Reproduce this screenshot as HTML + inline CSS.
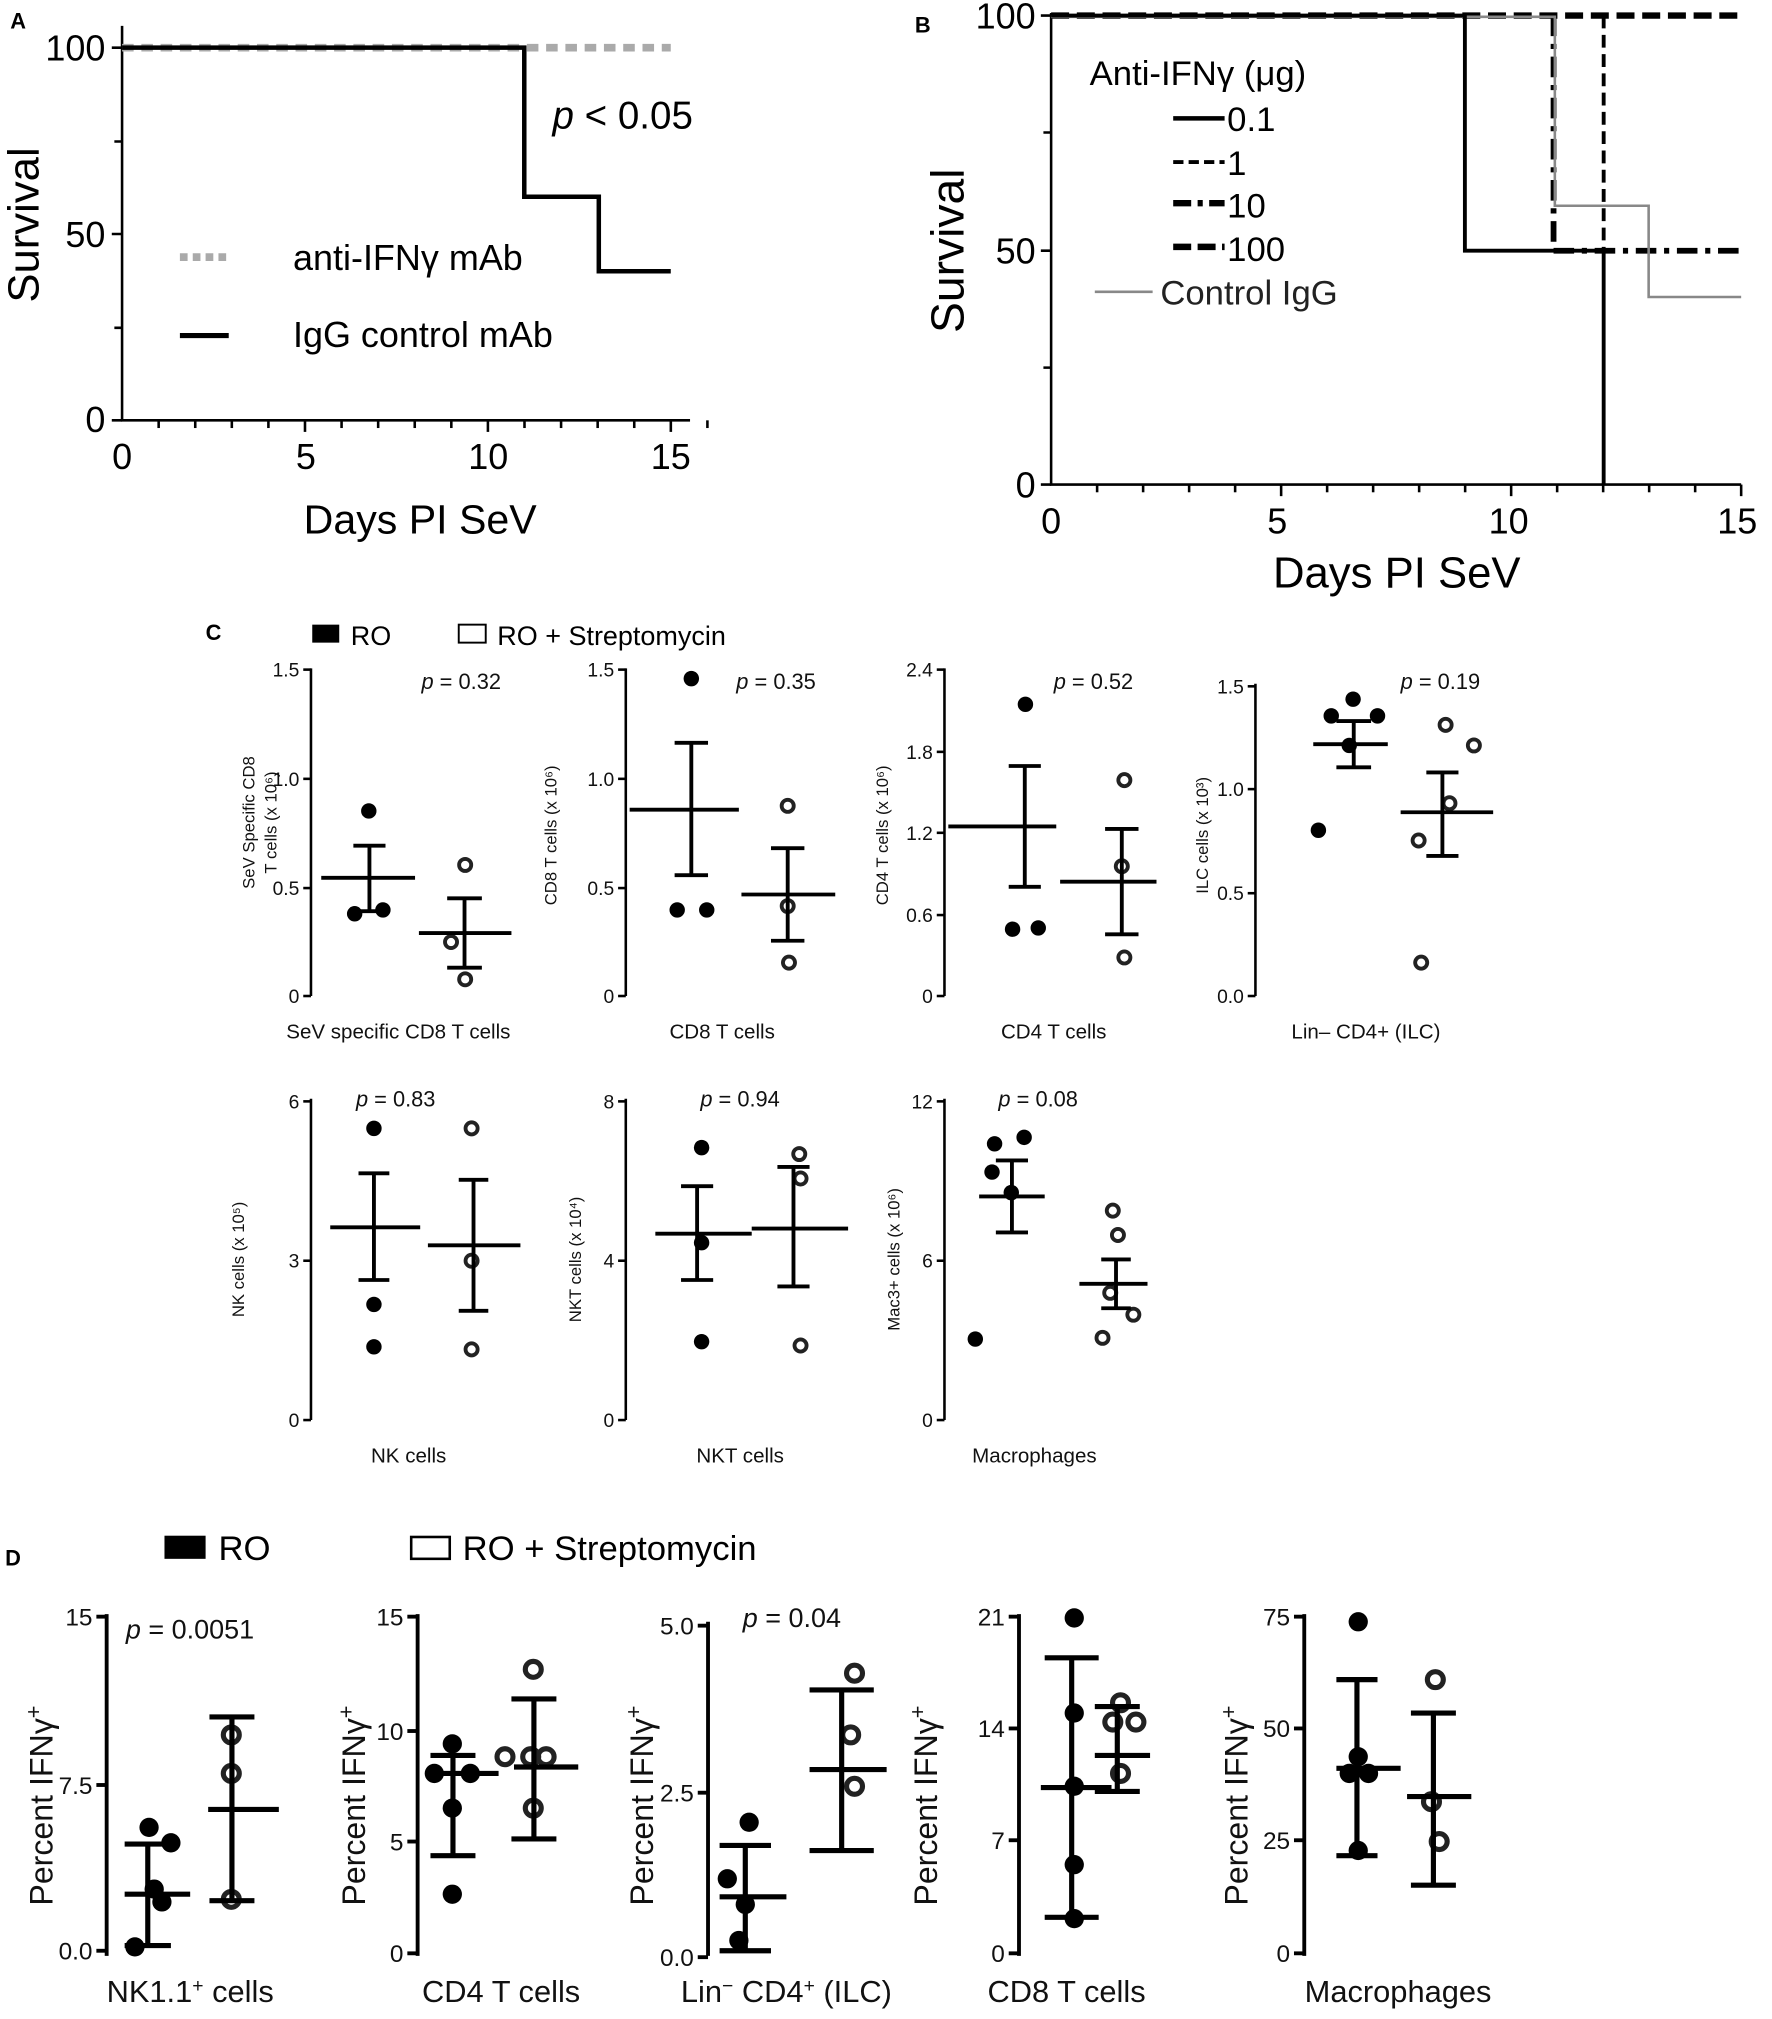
<!DOCTYPE html>
<html><head><meta charset="utf-8"><style>html,body{margin:0;padding:0;background:#fff}svg{display:block}text{font-family:"Liberation Sans",sans-serif}</style></head>
<body>
<svg id="s" xmlns="http://www.w3.org/2000/svg" width="1772" height="2019" viewBox="0 0 1379 1571">
<rect width="1379" height="1571" fill="#fff"/>
<!-- Panel A -->
<text x="8" y="22" font-size="17" font-weight="bold">A</text>
<g stroke="#000" stroke-width="2" fill="none">
<path d="M95,20V327H537"/>
<path d="M87,37H95M87,182H95M87,327H95M89,110H95M89,255H95"/>
</g>
<g id="ta"></g>
<g font-size="28" text-anchor="end"><text x="82" y="47">100</text><text x="82" y="192">50</text><text x="82" y="336">0</text></g>
<g font-size="28" text-anchor="middle"><text x="95" y="365">0</text><text x="238" y="365">5</text><text x="380" y="365">10</text><text x="522" y="365">15</text></g>
<text x="327" y="415" font-size="32" text-anchor="middle">Days PI SeV</text>
<text transform="translate(30,175) rotate(-90)" font-size="34" text-anchor="middle">Survival</text>
<path d="M95,37H522" stroke="#aaa" stroke-width="6" stroke-dasharray="9,6"/>
<path d="M95,37H408V153H466V211H522" stroke="#000" stroke-width="3.5" fill="none"/>
<path d="M140,200H178" stroke="#aaa" stroke-width="6" stroke-dasharray="6,4"/>
<path d="M140,261H178" stroke="#000" stroke-width="4"/>
<text x="228" y="210" font-size="28">anti-IFNγ mAb</text>
<text x="228" y="270" font-size="28">IgG control mAb</text>
<text x="430" y="100" font-size="30"><tspan font-style="italic">p</tspan> &lt; 0.05</text>
<!-- Panel B -->
<text x="712" y="25" font-size="17" font-weight="bold">B</text>
<g stroke="#000" stroke-width="2" fill="none">
<path d="M818,10V377H1355"/>
<path d="M810,12H818M810,195H818M810,377H818M812,103H818M812,286H818"/>
</g>
<g id="tb"></g>
<g font-size="28" text-anchor="end"><text x="806" y="22">100</text><text x="806" y="205">50</text><text x="806" y="387">0</text></g>
<g font-size="28" text-anchor="middle"><text x="818" y="415">0</text><text x="994" y="415">5</text><text x="1174" y="415">10</text><text x="1352" y="415">15</text></g>
<text x="1087" y="457" font-size="34" text-anchor="middle">Days PI SeV</text>
<text transform="translate(750,195) rotate(-90)" font-size="36" text-anchor="middle">Survival</text>
<path d="M818,12H1355" stroke="#000" stroke-width="5" stroke-dasharray="14,6"/>
<path d="M1248,12V195" stroke="#000" stroke-width="3" stroke-dasharray="10,5"/>
<path d="M1209,12V195M1209,195H1355" stroke="#000" stroke-width="4.5" stroke-dasharray="16,6,4,6"/>
<path d="M818,13H1210V160H1283V231H1355" stroke="#888" stroke-width="2" fill="none"/>
<path d="M818,12H1140V195H1248V377" stroke="#000" stroke-width="3" fill="none"/>
<text x="848" y="66" font-size="27">Anti-IFNγ (μg)</text>
<path d="M913,92H953" stroke="#000" stroke-width="3.5"/>
<path d="M913,126H953" stroke="#000" stroke-width="3" stroke-dasharray="8,4"/>
<path d="M913,158H953" stroke="#000" stroke-width="5" stroke-dasharray="14,5,4,5"/>
<path d="M913,192H953" stroke="#000" stroke-width="5" stroke-dasharray="14,5"/>
<g font-size="27"><text x="955" y="102">0.1</text><text x="955" y="136">1</text><text x="955" y="169">10</text><text x="955" y="203">100</text></g>
<path d="M852,227H897" stroke="#888" stroke-width="2"/>
<text x="903" y="237" font-size="27" fill="#222">Control IgG</text>
<!-- Panel C -->
<text x="160" y="498" font-size="17" font-weight="bold">C</text>
<rect x="243" y="486" width="21" height="14" fill="#000"/>
<text x="273" y="502" font-size="21">RO</text>
<rect x="357" y="486" width="21" height="14" fill="#fff" stroke="#000" stroke-width="1.5"/>
<text x="387" y="502" font-size="21">RO + Streptomycin</text>
<g id="plots"></g>
<!-- Panel D -->
<text x="4" y="1218" font-size="17" font-weight="bold">D</text>
<rect x="128" y="1195" width="32" height="18" fill="#000"/>
<text x="170" y="1214" font-size="27">RO</text>
<rect x="320" y="1196" width="30" height="17" fill="#fff" stroke="#000" stroke-width="2"/>
<text x="360" y="1214" font-size="27">RO + Streptomycin</text>
</svg>
<script>
var NS="http://www.w3.org/2000/svg";
function el(p,t,a,txt){var e=document.createElementNS(NS,t);for(var k in a)e.setAttribute(k,a[k]);if(txt!==undefined)e.innerHTML=txt;p.appendChild(e);return e;}
var ta=document.getElementById('ta');
for(var i=1;i<=16;i++){el(ta,'line',{x1:95+i*28.47,x2:95+i*28.47,y1:327,y2:(i%5==0?336:333),stroke:'#000','stroke-width':2});}
var tb=document.getElementById('tb');
for(var i=1;i<=15;i++){el(tb,'line',{x1:818+i*35.8,x2:818+i*35.8,y1:377,y2:(i%5==0?386:383),stroke:'#000','stroke-width':2});}
var g=document.getElementById('plots');
function plot(o){
 el(g,'line',{x1:o.ax,x2:o.ax,y1:o.top,y2:o.bot,stroke:'#000','stroke-width':o.lw||2});
 o.ticks.forEach(function(t){el(g,'line',{x1:o.ax-(o.tl||6),x2:o.ax,y1:t[1],y2:t[1],stroke:'#000','stroke-width':o.lw||2});
  el(g,'text',{x:o.ax-(o.tl||6)-3,y:t[1]+o.tf*0.36,'font-size':o.tf,'text-anchor':'end',fill:'#111'},t[0]);});
 el(g,'text',{transform:'translate('+o.ylx+','+o.yly+') rotate(-90)','font-size':o.yf,'text-anchor':'middle',fill:'#111'},o.yl);
 el(g,'text',{x:o.tx,y:o.ty,'font-size':o.tf2,'text-anchor':'middle',fill:'#111'},o.title);
 if(o.p)el(g,'text',{x:o.p[0],y:o.p[1],'font-size':o.pf,fill:'#111'},'<tspan font-style="italic">p</tspan> = '+o.p[2]);
 var lw=o.elw||3,r=o.r||6;
 o.dots.forEach(function(d){el(g,'circle',{cx:d[0],cy:d[1],r:r,fill:'#000'});});
 o.circ.forEach(function(d){el(g,'circle',{cx:d[0],cy:d[1],r:r-1.3,fill:'none',stroke:'#222','stroke-width':lw});});
 o.bars.forEach(function(b){
  var cx=(b[3]+b[4])/2;
  el(g,'path',{d:'M'+b[0]+','+b[2]+'H'+b[1]+'M'+b[3]+','+b[5]+'H'+b[4]+'M'+b[3]+','+b[6]+'H'+b[4]+'M'+cx+','+b[5]+'V'+b[6],stroke:'#000','stroke-width':lw,fill:'none'});});
}
var C={top:520,bot:775,tf:15,yf:13,tf2:16,pf:17,r:6,elw:3};
function c(o){for(var k in C)if(!(k in o))o[k]=C[k];plot(o);}
c({ax:242,ticks:[['1.5',521],['1.0',606],['0.5',691],['0',775]],ylx:206,yly:640,yl:'<tspan x="0" dy="-8">SeV Specific CD8</tspan><tspan x="0" dy="17">T cells (x 10⁶)</tspan>',tx:310,ty:808,title:'SeV specific CD8 T cells',p:[328,536,'0.32'],
 dots:[[287,631],[276,711],[298,708]],circ:[[362,673],[351,733],[362,762]],bars:[[250,323,683,275,300,658,709],[326,398,726,348,375,699,753]]});
c({ax:487,ticks:[['1.5',521],['1.0',606],['0.5',691],['0',775]],ylx:433,yly:650,yl:'CD8 T cells (x 10⁶)',tx:562,ty:808,title:'CD8 T cells',p:[573,536,'0.35'],
 dots:[[538,528],[527,708],[550,708]],circ:[[613,627],[613,705],[614,749]],bars:[[490,575,630,525,551,578,681],[577,650,696,600,626,660,732]]});
c({ax:735,ticks:[['2.4',521],['1.8',585],['1.2',648],['0.6',712],['0',775]],ylx:691,yly:650,yl:'CD4 T cells (x 10⁶)',tx:820,ty:808,title:'CD4 T cells',p:[820,536,'0.52'],
 dots:[[798,548],[788,723],[808,722]],circ:[[875,607],[873,674],[875,745]],bars:[[738,822,643,785,810,596,690],[825,900,686,860,886,645,727]]});
c({ax:977,top:532,ticks:[['1.5',534],['1.0',614],['0.5',695],['0.0',775]],ylx:940,yly:650,yl:'ILC cells (x 10³)',tx:1063,ty:808,title:'Lin– CD4+ (ILC)',p:[1090,536,'0.19'],
 dots:[[1053,544],[1036,557],[1072,557],[1050,580],[1026,646]],circ:[[1125,564],[1147,580],[1128,625],[1104,654],[1106,749]],bars:[[1022,1080,579,1040,1067,561,597],[1090,1162,632,1110,1135,601,666]]});
C.top=855;C.bot=1105;
c({ax:242,ticks:[['6',857],['3',981],['0',1105]],ylx:190,yly:980,yl:'NK cells (x 10⁵)',tx:318,ty:1138,title:'NK cells',p:[277,861,'0.83'],
 dots:[[291,878],[291,1015],[291,1048]],circ:[[367,878],[367,981],[367,1050]],bars:[[257,327,955,279,303,913,996],[333,405,969,357,380,918,1020]]});
c({ax:487,ticks:[['8',857],['4',981],['0',1105]],ylx:452,yly:980,yl:'NKT cells (x 10⁴)',tx:576,ty:1138,title:'NKT cells',p:[545,861,'0.94'],
 dots:[[546,893],[546,967],[546,1044]],circ:[[622,898],[623,917],[623,1047]],bars:[[510,585,960,530,555,923,996],[585,660,956,605,630,908,1001]]});
c({ax:735,ticks:[['12',857],['6',981],['0',1105]],ylx:700,yly:980,yl:'Mac3+ cells (x 10⁶)',tx:805,ty:1138,title:'Macrophages',p:[777,861,'0.08'],
 dots:[[774,890],[797,885],[772,912],[787,928],[759,1042]],circ:[[866,942],[870,961],[864,1006],[882,1023],[858,1041]],bars:[[762,813,931,775,800,903,959],[840,893,999,857,880,980,1018]]});
C={top:1256,bot:1522,tf:19,yf:25,tf2:24,pf:21,r:7.5,elw:4,lw:3,tl:8};
var yl='Percent IFNγ<tspan dy="-9" font-size="17">+</tspan>';
c({ax:83,ticks:[['15',1258],['7.5',1389],['0.0',1518]],ylx:41,yly:1405,yl:yl,tx:148,ty:1558,title:'NK1.1<tspan dy="-8" font-size="15">+</tspan><tspan dy="8"> cells</tspan>',p:[98,1275,'0.0051'],
 dots:[[116,1422],[133,1434],[120,1470],[126,1480],[105,1515]],circ:[[180,1350],[180,1380],[180,1478]],bars:[[97,148,1474,97,133,1435,1514],[162,217,1408,163,198,1336,1479]]});
c({ax:325,ticks:[['15',1258],['10',1347],['5',1433],['0',1520]],ylx:284,yly:1405,yl:yl,tx:390,ty:1558,title:'CD4 T cells',
 dots:[[352,1357],[338,1380],[366,1380],[352,1407],[352,1474]],circ:[[415,1299],[393,1367],[413,1367],[425,1367],[415,1407]],bars:[[335,388,1380,335,370,1366,1444],[400,450,1375,398,433,1322,1431]]});
c({ax:551,top:1262,ticks:[['5.0',1265],['2.5',1395],['0.0',1523]],ylx:508,yly:1405,yl:yl,tx:612,ty:1558,title:'Lin<tspan dy="-8" font-size="15">−</tspan><tspan dy="8"> CD4</tspan><tspan dy="-8" font-size="15">+</tspan><tspan dy="8"> (ILC)</tspan>',p:[578,1266,'0.04'],
 dots:[[583,1418],[566,1462],[580,1482],[575,1510]],circ:[[665,1302],[662,1350],[665,1390]],bars:[[560,612,1476,560,600,1436,1518],[630,690,1377,630,680,1315,1440]]});
c({ax:793,ticks:[['21',1258],['14',1345],['7',1432],['0',1520]],ylx:729,yly:1405,yl:yl,tx:830,ty:1558,title:'CD8 T cells',
 dots:[[836,1259],[836,1333],[836,1390],[836,1451],[836,1493]],circ:[[872,1325],[866,1340],[884,1340],[872,1380]],bars:[[810,865,1391,813,855,1290,1492],[852,895,1366,852,887,1328,1394]]});
c({ax:1015,ticks:[['75',1258],['50',1345],['25',1432],['0',1520]],ylx:971,yly:1405,yl:yl,tx:1088,ty:1558,title:'Macrophages',
 dots:[[1057,1262],[1057,1367],[1050,1380],[1065,1380],[1057,1440]],circ:[[1117,1307],[1114,1402],[1120,1433]],bars:[[1040,1090,1376,1040,1072,1307,1444],[1095,1145,1398,1098,1133,1333,1467]]});
</script>
</body></html>
